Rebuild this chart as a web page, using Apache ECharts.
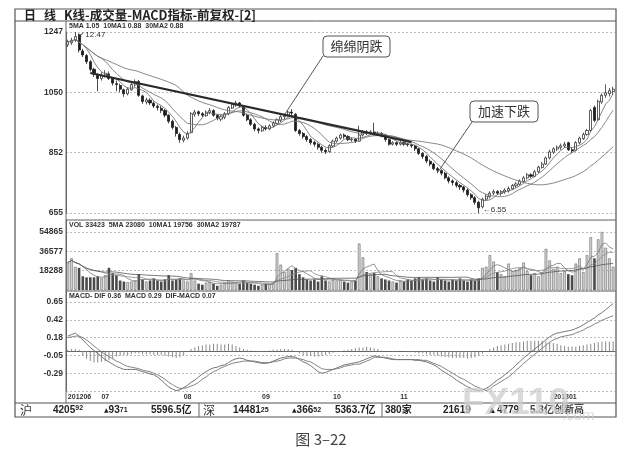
<!DOCTYPE html>
<html>
<head>
<meta charset="utf-8">
<script src="https://cdn.jsdelivr.net/npm/echarts/dist/echarts.min.js"></script>
<style>
html, body { margin: 0; padding: 0; background: #fff; }
#main { width: 643px; height: 457px; }
</style>
</head>
<body>
<div id="main"></div>
<script>
// daily bars, price x100: [open, close, low, high]
var candles = [
    [1205,1215,1198,1222],[1212,1220,1205,1228],[1222,1232,1215,1247],[1238,1188,1180,1242],
    [1185,1172,1165,1192],[1170,1150,1142,1175],[1150,1125,1118,1155],[1125,1110,1100,1130],
    [1105,1095,1053,1112],[1095,1105,1088,1115],[1102,1112,1098,1122],[1110,1095,1090,1118],
    [1095,1080,1072,1100],[1078,1075,1053,1088],[1072,1060,1050,1078],[1058,1045,1035,1062],
    [1045,1060,1040,1066],[1058,1075,1055,1080],[1074,1085,1068,1092],[1085,1040,1035,1090],
    [1038,1020,1012,1042],[1018,1025,1010,1032],[1024,1015,1008,1030],[1014,1005,998,1020],
    [1004,1000,990,1010],[998,990,982,1005],[990,975,968,995],[975,955,948,978],
    [955,935,928,960],[935,915,905,940],[912,895,885,918],[893,900,886,908],
    [900,915,895,922],[918,980,915,985],[978,985,970,992],[986,980,972,990],
    [980,975,968,985],[973,985,970,990],[984,990,978,998],[990,975,970,994],
    [975,965,958,978],[962,970,955,975],[968,980,962,985],[980,1000,975,1005],
    [998,1010,995,1015],[1008,1015,1002,1022],[1015,1005,1000,1018],[1005,975,970,1008],
    [975,960,955,980],[960,945,940,965],[945,930,922,950],[930,925,915,935],
    [924,935,920,940],[935,930,925,942],[930,940,926,945],[940,950,935,955],
    [948,960,945,965],[958,970,952,975],[970,975,962,980],[975,985,970,990],
    [985,982,975,995],[978,925,920,982],[925,915,908,930],[915,905,898,920],
    [905,895,888,910],[895,885,878,900],[886,880,872,892],[880,870,862,885],
    [870,860,852,874],[860,855,848,866],[856,875,852,880],[874,890,870,895],
    [890,900,885,905],[900,910,895,915],[910,905,898,915],[905,895,890,910],
    [894,896,888,902],[896,890,884,900],[890,910,888,940],[910,920,905,925],
    [920,915,910,926],[915,920,910,926],[920,915,908,950],[914,916,908,922],
    [915,910,903,920],[910,895,888,914],[895,880,875,898],[880,885,876,890],
    [885,880,874,889],[880,885,876,890],[885,880,875,889],[880,878,872,884],
    [878,875,868,882],[874,865,858,878],[865,850,845,868],[850,840,832,854],
    [840,825,818,845],[824,815,808,830],[815,800,795,820],[800,795,785,806],
    [794,785,778,798],[785,770,765,790],[770,760,752,775],[760,755,745,765],
    [754,745,738,760],[745,740,730,750],[740,730,722,744],[730,715,708,735],
    [715,705,698,720],[705,690,682,710],[690,672,655,695],[675,700,670,705],
    [700,710,695,716],[708,720,703,726],[720,725,714,732],[725,720,714,730],
    [719,725,712,730],[724,730,718,736],[728,735,722,742],[734,745,730,750],
    [744,750,738,756],[749,760,745,765],[758,770,755,776],[770,780,765,786],
    [780,775,770,785],[775,790,772,796],[790,805,786,810],[804,815,800,822],
    [815,835,812,840],[835,855,830,862],[854,865,848,870],[864,870,858,876],
    [870,875,862,882],[874,880,868,888],[885,862,858,888],[862,858,852,868],
    [860,885,856,890],[885,900,880,905],[898,912,894,918],[912,925,908,930],
    [925,990,920,996],[1000,958,952,1006],[960,1020,956,1026],[1018,1040,1012,1046],
    [1040,1048,1032,1076],[1045,1055,1036,1064],[1052,1060,1042,1068]
];
var volumes = [
    26000,30000,22000,21000,13000,12000,12000,12000,13000,11000,14000,21000,16000,14000,9000,8000,
    7500,8000,9000,15000,10000,8000,9000,11000,9000,8000,10000,14000,9000,10000,11000,9000,
    8000,16000,9000,6000,5000,7000,8000,6000,4000,5000,7000,9000,8000,7000,6000,9000,
    7000,6000,5000,4000,5000,6000,5500,7000,35000,24000,17000,20000,19000,21000,15000,12000,
    10000,9000,10000,8000,13000,9000,8000,10000,9000,10000,8000,7000,8000,9000,44000,31000,
    17000,15000,16000,13000,11000,10000,9000,8000,7000,9000,8000,10000,9000,11000,12000,10000,
    11000,9000,8000,12000,10000,9000,8000,10000,9000,11000,9000,8000,10000,9000,11000,21000,
    22000,33000,27000,17000,15000,13000,25000,18000,19000,21000,26000,18000,14000,16000,13000,17000,
    39000,28000,20000,22000,16000,18000,15000,14000,25000,30000,17000,33000,50000,30000,48000,55000,
    40000,30000,22000
];
var difLine = [
    0.20,0.22,0.24,0.20,0.15,0.10,0.05,0.01,-0.03,-0.07,-0.11,-0.14,-0.17,-0.20,-0.22,-0.24,
    -0.24,-0.24,-0.24,-0.25,-0.27,-0.28,-0.30,-0.31,-0.34,-0.38,-0.43,-0.47,-0.50,-0.52,-0.51,-0.48,
    -0.45,-0.41,-0.38,-0.34,-0.30,-0.27,-0.24,-0.22,-0.21,-0.19,-0.18,-0.15,-0.12,-0.10,-0.09,-0.10,
    -0.12,-0.13,-0.14,-0.15,-0.16,-0.16,-0.15,-0.13,-0.11,-0.09,-0.08,-0.07,-0.07,-0.08,-0.11,-0.14,
    -0.16,-0.19,-0.23,-0.27,-0.29,-0.28,-0.26,-0.24,-0.22,-0.20,-0.18,-0.17,-0.16,-0.15,-0.14,-0.12,
    -0.10,-0.08,-0.06,-0.07,-0.08,-0.09,-0.10,-0.11,-0.11,-0.11,-0.11,-0.11,-0.11,-0.12,-0.12,-0.13,
    -0.14,-0.16,-0.18,-0.21,-0.25,-0.28,-0.31,-0.34,-0.38,-0.41,-0.44,-0.47,-0.49,-0.51,-0.52,-0.51,
    -0.49,-0.46,-0.42,-0.38,-0.35,-0.31,-0.27,-0.23,-0.18,-0.14,-0.09,-0.05,-0.01,0.03,0.07,0.11,
    0.15,0.19,0.22,0.24,0.25,0.26,0.27,0.28,0.30,0.32,0.35,0.38,0.41,0.44,0.48,0.51,
    0.55,0.59,0.63
];
var deaLine = [
    0.18,0.19,0.20,0.20,0.18,0.15,0.11,0.07,0.03,-0.01,-0.04,-0.07,-0.10,-0.13,-0.15,-0.18,
    -0.20,-0.21,-0.22,-0.23,-0.25,-0.26,-0.27,-0.29,-0.31,-0.34,-0.37,-0.41,-0.44,-0.47,-0.49,-0.49,
    -0.48,-0.46,-0.44,-0.41,-0.37,-0.34,-0.30,-0.27,-0.25,-0.22,-0.20,-0.18,-0.16,-0.15,-0.14,-0.13,
    -0.13,-0.13,-0.13,-0.14,-0.15,-0.15,-0.15,-0.14,-0.13,-0.12,-0.10,-0.09,-0.09,-0.09,-0.10,-0.11,
    -0.13,-0.14,-0.17,-0.20,-0.23,-0.24,-0.24,-0.24,-0.23,-0.22,-0.20,-0.19,-0.18,-0.17,-0.17,-0.15,
    -0.13,-0.11,-0.08,-0.08,-0.08,-0.08,-0.09,-0.10,-0.11,-0.11,-0.11,-0.11,-0.11,-0.11,-0.11,-0.12,
    -0.12,-0.14,-0.16,-0.18,-0.20,-0.23,-0.26,-0.29,-0.32,-0.35,-0.37,-0.40,-0.43,-0.46,-0.48,-0.50,
    -0.52,-0.50,-0.46,-0.43,-0.40,-0.37,-0.34,-0.30,-0.25,-0.21,-0.16,-0.12,-0.08,-0.04,0.00,0.04,
    0.08,0.12,0.15,0.17,0.19,0.20,0.21,0.22,0.24,0.26,0.28,0.31,0.33,0.36,0.38,0.41,
    0.43,0.45,0.47
];
var macdBar = [
    0.02,0.03,0.03,0.02,-0.06,-0.10,-0.13,-0.15,-0.15,-0.14,-0.13,-0.12,-0.10,-0.07,-0.06,-0.05,
    -0.05,-0.04,-0.03,-0.03,-0.04,-0.04,-0.04,-0.05,-0.05,-0.05,-0.06,-0.07,-0.08,-0.09,-0.08,-0.05,
    0.00,0.03,0.05,0.07,0.08,0.09,0.09,0.10,0.10,0.09,0.09,0.10,0.09,0.07,0.05,0.03,
    0.02,0.01,0.00,-0.01,-0.01,0.00,0.01,0.02,0.02,0.03,0.03,0.03,0.02,-0.01,-0.03,-0.05,
    -0.06,-0.06,-0.07,-0.07,-0.06,-0.05,-0.04,-0.02,-0.01,0.00,0.01,0.02,0.03,0.04,0.05,0.05,
    0.06,0.05,0.04,0.03,0.01,0.00,0.00,-0.01,-0.01,0.00,0.00,-0.01,-0.01,-0.02,-0.03,-0.03,
    -0.04,-0.05,-0.05,-0.06,-0.07,-0.08,-0.08,-0.09,-0.09,-0.09,-0.09,-0.10,-0.09,-0.08,-0.06,-0.03,
    0.00,0.03,0.05,0.07,0.08,0.09,0.10,0.11,0.12,0.12,0.13,0.14,0.14,0.14,0.14,0.14,
    0.13,0.12,0.11,0.10,0.08,0.07,0.06,0.06,0.06,0.07,0.08,0.09,0.10,0.11,0.12,0.13,
    0.13,0.13,0.13
];
var trendLine = [[6, 1113], [92, 887]];
var monthTicks = { 0: '201206', 9: '07', 31: '08', 52: '09', 71: '10', 89: '11', 130: '201301' };
var macdTicks = ['0.65', '0.42', '0.18', '-0.05', '-0.29'];

function calcMA(src, n) {
    var out = [];
    for (var i = 0; i < src.length; i++) {
        var s = 0, c = 0;
        for (var j = Math.max(0, i - n + 1); j <= i; j++) { s += src[j]; c++; }
        out.push(+(s / c).toFixed(1));
    }
    return out;
}

var closes = candles.map(function (c) { return c[1]; });
var days = candles.map(function (c, i) { return String(i); });
var volData = volumes.map(function (v, i) {
    var up = candles[i][1] >= candles[i][0];
    return {
        value: v,
        itemStyle: up ? { color: '#d6d6d6', borderColor: '#6a6a6a', borderWidth: 0.6 }
                      : { color: '#4a4a4a' }
    };
});

var dom = document.getElementById('main');
var myChart = echarts.init(dom);
var gridLine = { show: true, lineStyle: { color: '#a0a0a0', type: [2, 2], width: 0.7 } };
var axisFont = { fontSize: 8.5, fontWeight: 'bold', color: '#333', fontFamily: 'Liberation Sans' };
var thin = { width: 0.9, color: '#7a7a7a' };
var smallHead = 'bold 7px "Liberation Sans"';

var option = {
    animation: false,
    backgroundColor: '#fff',
    grid: [
        { left: 66, right: 28, top: 32, height: 181, outerBoundsMode: 'none' },
        { left: 66, right: 28, top: 220, height: 70, outerBoundsMode: 'none' },
        { left: 66, right: 28, top: 291, height: 100, outerBoundsMode: 'none' }
    ],
    xAxis: [
        { type: 'category', gridIndex: 0, data: days, show: false },
        { type: 'category', gridIndex: 1, data: days, show: false },
        {
            type: 'category', gridIndex: 2, data: days,
            axisLine: { lineStyle: { color: '#666', width: 1 } },
            axisTick: {
                length: 2, lineStyle: { color: '#444' },
                interval: function (i) { return monthTicks[i] !== undefined; }
            },
            axisLabel: {
                fontSize: 7, fontWeight: 'bold', color: '#333', align: 'left', margin: 3,
                fontFamily: 'Liberation Sans',
                interval: function (i) { return monthTicks[i] !== undefined; },
                formatter: function (v, i) { return monthTicks[i] || ''; }
            }
        }
    ],
    yAxis: [
        {
            type: 'value', gridIndex: 0, min: 655, max: 1247, interval: 592 / 3,
            axisLine: { show: true, lineStyle: { color: '#666' } }, axisTick: { show: false },
            axisLabel: Object.assign({ margin: 3, formatter: function (v) { return Math.round(v); } }, axisFont),
            splitLine: gridLine
        },
        {
            type: 'value', gridIndex: 1, min: 0, max: 66300, interval: 54865 / 3,
            axisLine: { show: true, lineStyle: { color: '#666' } }, axisTick: { show: false },
            axisLabel: Object.assign({ margin: 3, showMinLabel: false, showMaxLabel: false,
                formatter: function (v) { return Math.round(v); } }, axisFont),
            splitLine: gridLine
        },
        {
            type: 'value', gridIndex: 2, min: -0.525, max: 0.796, interval: 0.235,
            axisLine: { show: true, lineStyle: { color: '#666' } }, axisTick: { show: false },
            axisLabel: Object.assign({ margin: 3, showMinLabel: false, showMaxLabel: false,
                formatter: function (v) {
                    for (var k = 0; k < macdTicks.length; k++) {
                        if (Math.abs(parseFloat(macdTicks[k]) - v) < 0.012) return macdTicks[k];
                    }
                    return '';
                } }, axisFont),
            splitLine: gridLine
        }
    ],
    series: [
        {
            name: 'K', type: 'candlestick', xAxisIndex: 0, yAxisIndex: 0, data: candles,
            barWidth: 2.6,
            itemStyle: { color: '#fff', color0: '#1e1e1e', borderColor: '#333', borderColor0: '#1e1e1e', borderWidth: 0.8 },
            markPoint: {
                symbolSize: 0,
                label: {
                    show: true, position: 'right', fontSize: 8, color: '#333', fontFamily: 'Liberation Sans',
                    formatter: function (p) { return '\u2199' + (p.value / 100).toFixed(2); }
                },
                data: [
                    { type: 'max', valueDim: 'highest', label: { offset: [-2, 3] } },
                    { type: 'min', valueDim: 'lowest', label: { offset: [-1, -3],
                        formatter: function (p) { return '\u2190' + (p.value / 100).toFixed(2); } } }
                ]
            }
        },
        { name: '5MA', type: 'line', xAxisIndex: 0, yAxisIndex: 0, data: calcMA(closes, 5), symbol: 'none', lineStyle: { width: 0.8, color: '#666' } },
        { name: '10MA1', type: 'line', xAxisIndex: 0, yAxisIndex: 0, data: calcMA(closes, 10), symbol: 'none', lineStyle: thin },
        { name: '30MA2', type: 'line', xAxisIndex: 0, yAxisIndex: 0, data: calcMA(closes, 30), symbol: 'none', lineStyle: thin },
        { name: 'trend', type: 'line', xAxisIndex: 0, yAxisIndex: 0, data: trendLine, symbol: 'none', z: 5, lineStyle: { width: 2.2, color: '#2a2a2a' } },
        { name: 'VOL', type: 'bar', xAxisIndex: 1, yAxisIndex: 1, data: volData, barWidth: 2.6 },
        { name: 'V5', type: 'line', xAxisIndex: 1, yAxisIndex: 1, data: calcMA(volumes, 5), symbol: 'none', lineStyle: { width: 0.8, color: '#777' } },
        { name: 'V10', type: 'line', xAxisIndex: 1, yAxisIndex: 1, data: calcMA(volumes, 10), symbol: 'none', lineStyle: { width: 0.8, color: '#888' } },
        { name: 'V30', type: 'line', xAxisIndex: 1, yAxisIndex: 1, data: calcMA(volumes, 30), symbol: 'none', lineStyle: { width: 0.8, color: '#555' } },
        { name: 'DIF-MACD', type: 'bar', xAxisIndex: 2, yAxisIndex: 2, data: macdBar, barWidth: 1, itemStyle: { color: '#8a8a8a' } },
        { name: 'DIF', type: 'line', xAxisIndex: 2, yAxisIndex: 2, data: difLine, symbol: 'none', lineStyle: { width: 0.9, color: '#666' } },
        { name: 'MACD', type: 'line', xAxisIndex: 2, yAxisIndex: 2, data: deaLine, symbol: 'none', lineStyle: { width: 0.9, color: '#777' } }
    ],
    graphic: { elements: [
        // frame
        { type: 'rect', shape: { x: 15, y: 9, width: 601, height: 408 }, style: { fill: 'none', stroke: '#555', lineWidth: 1.2 }, silent: true },
        { type: 'line', shape: { x1: 15, y1: 21, x2: 616, y2: 21 }, style: { stroke: '#555', lineWidth: 1 }, silent: true },
        { type: 'line', shape: { x1: 66, y1: 21, x2: 66, y2: 403 }, style: { stroke: '#666', lineWidth: 1 }, silent: true },
        { type: 'line', shape: { x1: 66, y1: 220, x2: 616, y2: 220 }, style: { stroke: '#666', lineWidth: 1 }, silent: true },
        { type: 'line', shape: { x1: 66, y1: 291, x2: 616, y2: 291 }, style: { stroke: '#666', lineWidth: 1 }, silent: true },
        { type: 'line', shape: { x1: 15, y1: 403, x2: 616, y2: 403 }, style: { stroke: '#555', lineWidth: 1 }, silent: true },
        { type: 'line', shape: { x1: 199, y1: 403, x2: 199, y2: 417 }, style: { stroke: '#666', lineWidth: 1 }, silent: true },
        { type: 'line', shape: { x1: 382, y1: 403, x2: 382, y2: 417 }, style: { stroke: '#666', lineWidth: 1 }, silent: true },
        // title row
        { type: 'text', x: 24, y: 15, style: { text: '日', font: 'bold 12px "Noto Sans CJK SC"', fill: '#222', verticalAlign: 'middle' }, silent: true },
        { type: 'text', x: 44, y: 15, style: { text: '线', font: 'bold 12px "Noto Sans CJK SC"', fill: '#222', verticalAlign: 'middle' }, silent: true },
        { type: 'text', x: 64, y: 15, style: { text: 'K线-成交量-MACD指标-前复权-[2]', font: 'bold 12.5px "Noto Sans CJK SC"', fill: '#222', verticalAlign: 'middle' }, silent: true },
        // panel headers
        { type: 'text', x: 69, y: 26, style: { text: '5MA 1.05  10MA1 0.88  30MA2 0.88', font: smallHead, fill: '#333', verticalAlign: 'middle' }, silent: true },
        { type: 'text', x: 69, y: 225, style: { text: 'VOL 33423  5MA 23080  10MA1 19756  30MA2 19787', font: smallHead, fill: '#333', verticalAlign: 'middle' }, silent: true },
        { type: 'text', x: 69, y: 296, style: { text: 'MACD- DIF 0.36  MACD 0.29  DIF-MACD 0.07', font: smallHead, fill: '#333', verticalAlign: 'middle' }, silent: true },
        // annotations
        { type: 'line', shape: { x1: 323, y1: 56, x2: 285, y2: 114 }, style: { stroke: '#444', lineWidth: 0.9 }, silent: true, z: 10 },
        { type: 'rect', shape: { x: 323, y: 36, width: 67, height: 21, r: 4 }, style: { fill: '#fff', stroke: '#555', lineWidth: 1 }, silent: true, z: 10 },
        { type: 'text', x: 356.5, y: 46.5, style: { text: '绵绵阴跌', font: '13px "Noto Sans CJK SC"', fill: '#333', align: 'center', verticalAlign: 'middle' }, silent: true, z: 11 },
        { type: 'line', shape: { x1: 472, y1: 122, x2: 438, y2: 172 }, style: { stroke: '#444', lineWidth: 0.9 }, silent: true, z: 10 },
        { type: 'rect', shape: { x: 470, y: 101, width: 68, height: 21, r: 4 }, style: { fill: '#fff', stroke: '#555', lineWidth: 1 }, silent: true, z: 10 },
        { type: 'text', x: 504, y: 111.5, style: { text: '加速下跌', font: '13px "Noto Sans CJK SC"', fill: '#333', align: 'center', verticalAlign: 'middle' }, silent: true, z: 11 },
        // status bar
        { type: 'text', x: 20, y: 410, style: { text: '沪', font: '12px "Noto Sans CJK SC"', fill: '#333', verticalAlign: 'middle' }, silent: true },
        { type: 'text', x: 53, y: 410, style: { text: '{a|4205}{b|92}', verticalAlign: 'middle', rich: { a: { font: 'bold 10px "Liberation Sans"', fill: '#222' }, b: { font: 'bold 7px "Liberation Sans"', fill: '#222', verticalAlign: 'top' } } }, silent: true },
        { type: 'text', x: 104, y: 410, style: { text: '{c|▲}{a|93}{b|71}', verticalAlign: 'middle', rich: { a: { font: 'bold 10px "Liberation Sans"', fill: '#222' }, b: { font: 'bold 7px "Liberation Sans"', fill: '#222' }, c: { font: '6px "DejaVu Sans"', fill: '#222' } } }, silent: true },
        { type: 'text', x: 151, y: 410, style: { text: '5596.5亿', font: 'bold 10px "Liberation Sans", "Noto Sans CJK SC"', fill: '#222', verticalAlign: 'middle' }, silent: true },
        { type: 'text', x: 203, y: 410, style: { text: '深', font: '12px "Noto Sans CJK SC"', fill: '#333', verticalAlign: 'middle' }, silent: true },
        { type: 'text', x: 233, y: 410, style: { text: '{a|14481}{b|25}', verticalAlign: 'middle', rich: { a: { font: 'bold 10px "Liberation Sans"', fill: '#222' }, b: { font: 'bold 7px "Liberation Sans"', fill: '#222' } } }, silent: true },
        { type: 'text', x: 292, y: 410, style: { text: '{c|▲}{a|366}{b|52}', verticalAlign: 'middle', rich: { a: { font: 'bold 10px "Liberation Sans"', fill: '#222' }, b: { font: 'bold 7px "Liberation Sans"', fill: '#222' }, c: { font: '6px "DejaVu Sans"', fill: '#222' } } }, silent: true },
        { type: 'text', x: 335, y: 410, style: { text: '5363.7亿', font: 'bold 10px "Liberation Sans", "Noto Sans CJK SC"', fill: '#222', verticalAlign: 'middle' }, silent: true },
        { type: 'text', x: 385, y: 410, style: { text: '380家', font: 'bold 10px "Liberation Sans", "Noto Sans CJK SC"', fill: '#222', verticalAlign: 'middle' }, silent: true },
        { type: 'text', x: 443, y: 410, style: { text: '21619', font: 'bold 10px "Liberation Sans"', fill: '#222', verticalAlign: 'middle' }, silent: true },
        { type: 'text', x: 487, y: 410, style: { text: '▲4779', font: 'bold 10px "Liberation Sans"', fill: '#222', verticalAlign: 'middle' }, silent: true },
        { type: 'text', x: 530, y: 410, style: { text: '5.3亿创新高', font: 'bold 10px "Liberation Sans", "Noto Sans CJK SC"', fill: '#444', verticalAlign: 'middle' }, silent: true },
        // watermark
        { type: 'text', x: 462, y: 404, z: 20, style: { text: 'FX110', font: 'bold 37px "Liberation Sans"', fill: 'rgba(205,205,205,0.75)', verticalAlign: 'middle' }, silent: true },
        { type: 'text', x: 562, y: 416, z: 20, style: { text: '.com', font: '15px "Liberation Sans"', fill: 'rgba(205,205,205,0.75)', verticalAlign: 'middle' }, silent: true },
        // caption
        { type: 'text', x: 321, y: 439, style: { text: '图 3–22', font: '15px "Noto Sans CJK SC"', fill: '#444', align: 'center', verticalAlign: 'middle' }, silent: true }
    ] }
};

if (option && typeof option === 'object') {
    myChart.setOption(option, true);
}
</script>
</body>
</html>
